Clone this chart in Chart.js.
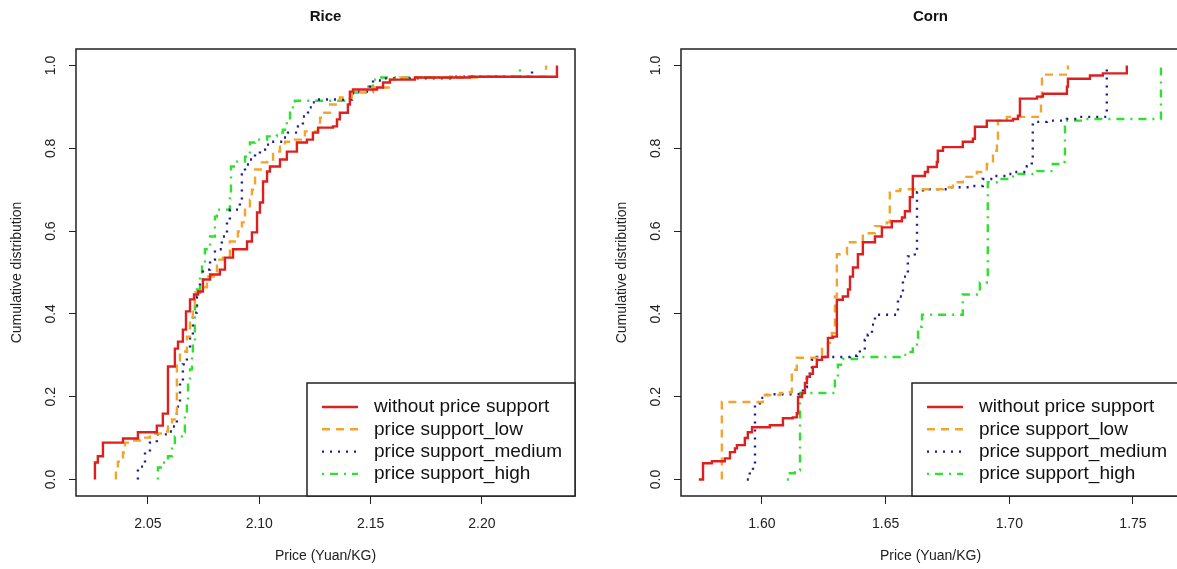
<!DOCTYPE html>
<html>
<head>
<meta charset="utf-8">
<script src="https://cdn.jsdelivr.net/npm/chart.js@4.4.1/dist/chart.umd.min.js"></script>
<style>
  html, body { margin: 0; padding: 0; background: #fff; overflow: hidden; width: 1177px; height: 569px; }
  canvas { position: absolute; top: 0; }
  #rice { left: -4px; }
  #corn { left: 601px; }
</style>
</head>
<body>
<canvas id="rice" width="600" height="569"></canvas>
<canvas id="corn" width="600" height="569"></canvas>
<script>
// series labels and axis ticks
const seriesNames = ['without price support', 'price support_low', 'price support_medium', 'price support_high'];
const riceTicks = [2.05, 2.10, 2.15, 2.20];
const cornTicks = [1.60, 1.65, 1.70, 1.75];
const yTicks = [0, 0.2, 0.4, 0.6, 0.8, 1.0];

// Rice: price where the ecdf jumps, and the level after the jump
const riceNoneX = [2.0262,2.0262,2.0275,2.0298,2.0388,2.0455,2.0540,2.0567,2.0590,2.0621,2.0635,2.0657,2.0671,2.0689,2.0707,2.0725,2.0747,2.0779,2.0823,2.0846,2.0882,2.0945,2.0967,2.0990,2.1003,2.1017,2.1035,2.1048,2.1093,2.1124,2.1169,2.1214,2.1241,2.1264,2.1331,2.1349,2.1362,2.1398,2.1407,2.1421,2.1529,2.1556,2.1587,2.1699,2.1946,2.2337,2.2337];
const riceNoneF = [0,0.041,0.056,0.089,0.099,0.114,0.130,0.159,0.273,0.316,0.333,0.362,0.406,0.435,0.447,0.454,0.483,0.495,0.507,0.536,0.556,0.575,0.597,0.645,0.669,0.720,0.744,0.756,0.773,0.792,0.814,0.821,0.838,0.850,0.853,0.870,0.886,0.906,0.937,0.942,0.947,0.959,0.966,0.971,0.973,0.976,1.0];

const riceLowX = [2.0356,2.0356,2.0365,2.0388,2.0397,2.0428,2.0464,2.0509,2.0576,2.0590,2.0608,2.0630,2.0644,2.0675,2.0689,2.0702,2.0711,2.0734,2.0765,2.0810,2.0837,2.0868,2.0904,2.0922,2.0936,2.0958,2.0967,2.0981,2.1012,2.1035,2.1062,2.1093,2.1115,2.1160,2.1205,2.1264,2.1273,2.1286,2.1318,2.1362,2.1416,2.1511,2.1587,2.1632,2.1991,2.2288,2.2288];
const riceLowF = [0,0.024,0.043,0.065,0.089,0.094,0.101,0.111,0.116,0.128,0.145,0.283,0.309,0.345,0.379,0.415,0.452,0.464,0.490,0.531,0.539,0.575,0.599,0.621,0.652,0.676,0.700,0.749,0.766,0.773,0.792,0.804,0.816,0.821,0.841,0.853,0.874,0.886,0.906,0.923,0.935,0.947,0.966,0.971,0.973,0.976,1.0];

const riceMedX = [2.0455,2.0455,2.0487,2.0509,2.0540,2.0585,2.0612,2.0630,2.0644,2.0657,2.0675,2.0689,2.0702,2.0720,2.0734,2.0747,2.0779,2.0801,2.0832,2.0855,2.0868,2.0913,2.0922,2.0936,2.0958,2.0981,2.1003,2.1026,2.1048,2.1106,2.1129,2.1174,2.1196,2.1219,2.1237,2.1250,2.1416,2.1421,2.1497,2.1511,2.1556,2.1857,2.2225,2.2225];
const riceMedF = [0,0.031,0.065,0.089,0.109,0.116,0.128,0.176,0.234,0.278,0.314,0.350,0.403,0.442,0.483,0.507,0.531,0.556,0.587,0.621,0.652,0.676,0.737,0.761,0.773,0.785,0.797,0.809,0.816,0.826,0.838,0.853,0.877,0.899,0.911,0.918,0.923,0.937,0.949,0.964,0.969,0.973,0.976,1.0];

const riceHighX = [2.0545,2.0545,2.0563,2.0590,2.0608,2.0621,2.0653,2.0666,2.0666,2.0675,2.0680,2.0689,2.0698,2.0702,2.0711,2.0711,2.0720,2.0734,2.0743,2.0756,2.0779,2.0801,2.0810,2.0868,2.0873,2.0900,2.0936,2.0958,2.0981,2.1035,2.1079,2.1106,2.1124,2.1138,2.1160,2.1407,2.1484,2.1511,2.1542,2.1857,2.2171,2.2171];
const riceHighF = [0,0.029,0.041,0.056,0.080,0.104,0.114,0.128,0.162,0.193,0.234,0.266,0.297,0.331,0.370,0.418,0.459,0.495,0.514,0.556,0.587,0.635,0.652,0.693,0.756,0.768,0.780,0.814,0.821,0.829,0.838,0.845,0.865,0.899,0.915,0.935,0.949,0.966,0.971,0.973,0.976,1.0];

// Corn
const cornNoneX = [1.5745,1.5762,1.5798,1.5850,1.5871,1.5891,1.5899,1.5931,1.5943,1.5960,1.6032,1.6085,1.6125,1.6141,1.6146,1.6162,1.6174,1.6182,1.6194,1.6206,1.6222,1.6243,1.6267,1.6287,1.6303,1.6303,1.6327,1.6348,1.6356,1.6368,1.6388,1.6408,1.6457,1.6485,1.6525,1.6566,1.6578,1.6598,1.6610,1.6659,1.6671,1.6707,1.6711,1.6732,1.6812,1.6853,1.6861,1.6909,1.7015,1.7035,1.7043,1.7112,1.7136,1.7233,1.7237,1.7326,1.7378,1.7475];
const cornNoneF = [0,0.039,0.044,0.051,0.066,0.075,0.083,0.100,0.114,0.126,0.131,0.148,0.150,0.160,0.199,0.209,0.233,0.248,0.255,0.272,0.289,0.296,0.342,0.345,0.367,0.434,0.442,0.459,0.490,0.512,0.544,0.573,0.587,0.609,0.624,0.633,0.648,0.682,0.733,0.743,0.755,0.767,0.794,0.803,0.816,0.823,0.852,0.867,0.871,0.879,0.920,0.925,0.932,0.949,0.968,0.976,0.981,1.0];

const cornLowX = [1.5838,1.5838,1.6004,1.6012,1.6073,1.6113,1.6121,1.6141,1.6222,1.6243,1.6267,1.6283,1.6295,1.6303,1.6344,1.6408,1.6457,1.6505,1.6517,1.6558,1.6732,1.6772,1.6812,1.6869,1.6909,1.6934,1.6950,1.6954,1.6990,1.7128,1.7132,1.7237];
const cornLowF = [0,0.187,0.192,0.204,0.209,0.211,0.265,0.294,0.301,0.320,0.330,0.354,0.442,0.544,0.573,0.595,0.612,0.621,0.697,0.701,0.706,0.718,0.731,0.743,0.762,0.794,0.823,0.867,0.876,0.925,0.978,1.0];

const cornMedX = [1.5939,1.5951,1.5964,1.5972,1.5992,1.6020,1.6044,1.6154,1.6166,1.6182,1.6194,1.6202,1.6222,1.6356,1.6384,1.6396,1.6416,1.6428,1.6445,1.6457,1.6550,1.6570,1.6590,1.6618,1.6627,1.6651,1.6748,1.6841,1.6893,1.6934,1.6990,1.7015,1.7071,1.7091,1.7095,1.7152,1.7233,1.7285,1.7394];
const cornMedF = [0,0.017,0.029,0.184,0.197,0.204,0.206,0.211,0.223,0.248,0.265,0.289,0.296,0.299,0.306,0.313,0.337,0.350,0.374,0.398,0.442,0.490,0.539,0.549,0.694,0.701,0.706,0.709,0.726,0.733,0.738,0.743,0.757,0.774,0.864,0.867,0.871,0.876,1.0];

const cornHighX = [1.6101,1.6113,1.6133,1.6154,1.6154,1.6295,1.6307,1.6327,1.6384,1.6558,1.6586,1.6610,1.6627,1.6631,1.6647,1.6812,1.6869,1.6881,1.6909,1.6913,1.6950,1.7015,1.7112,1.7176,1.7217,1.7225,1.7298,1.7613];
const cornHighF = [0,0.015,0.022,0.034,0.209,0.248,0.277,0.291,0.296,0.301,0.308,0.320,0.342,0.369,0.398,0.447,0.451,0.476,0.488,0.718,0.726,0.738,0.745,0.762,0.767,0.867,0.871,1.0];

const styles = [
  { color: '#dd1f1f', dash: [] },
  { color: '#f1a52e', dash: [8, 6] },
  { color: '#1c1c8c', dash: [2, 6] },
  { color: '#2fe02f', dash: [2, 6, 8, 6] },
];

const FONT = '"Liberation Sans", Arial, Helvetica, sans-serif';
Chart.defaults.font.family = FONT;
Chart.defaults.color = '#222';

// box round the plot, rotated y labels, legend in the bottom right corner
const frame = {
  id: 'frame',
  afterDraw(chart) {
    const { ctx, chartArea: a } = chart;
    const y = chart.scales.y;
    ctx.save();
    ctx.strokeStyle = '#222';
    ctx.lineWidth = 1.5;
    ctx.strokeRect(a.left, a.top, a.right - a.left, a.bottom - a.top);

    ctx.fillStyle = '#222';
    ctx.font = '14px ' + FONT;
    ctx.textAlign = 'center';
    ctx.textBaseline = 'middle';
    yTicks.forEach(v => {
      ctx.save();
      ctx.translate(a.left - 25, y.getPixelForValue(v));
      ctx.rotate(-Math.PI / 2);
      ctx.fillText(v.toFixed(1), 0, 0);
      ctx.restore();
    });

    const w = 268, h = 113;
    const bx = a.right - w, by = a.bottom - h;
    ctx.fillStyle = '#fff';
    ctx.fillRect(bx, by, w, h);
    ctx.strokeRect(bx, by, w, h);
    chart.data.datasets.forEach((ds, i) => {
      const ry = by + 24 + i * 22.3;
      ctx.beginPath();
      ctx.setLineDash(ds.borderDash);
      ctx.strokeStyle = ds.borderColor;
      ctx.lineWidth = ds.borderWidth;
      ctx.moveTo(bx + 15, ry);
      ctx.lineTo(bx + 51, ry);
      ctx.stroke();
      ctx.setLineDash([]);
      ctx.fillStyle = '#111';
      ctx.font = '19px ' + FONT;
      ctx.textAlign = 'left';
      ctx.fillText(ds.label, bx + 67, ry);
    });
    ctx.restore();
  }
};

const makeChart = (id, title, xMin, xMax, xTicks, xs, fs) => {
  const datasets = xs.map((xArr, i) => ({
    label: seriesNames[i],
    data: xArr.map((v, k) => ({ x: v, y: fs[i][k] })),
    showLine: true,
    stepped: 'before',
    pointRadius: 0,
    borderColor: styles[i].color,
    borderDash: styles[i].dash,
    borderWidth: 2.4,
    borderCapStyle: 'butt',
    fill: false,
  }));

  new Chart(document.getElementById(id), {
    type: 'scatter',
    data: { datasets },
    options: {
      responsive: false,
      animation: false,
      devicePixelRatio: 1,
      layout: { padding: { left: 0, right: 21, top: 0, bottom: 0 } },
      plugins: {
        legend: { display: false },
        tooltip: { enabled: false },
        title: {
          display: true,
          text: title,
          fullSize: false,
          color: '#111',
          font: { size: 15, weight: 'bold' },
          padding: { top: 8, bottom: 23 },
        },
      },
      scales: {
        x: {
          type: 'linear',
          min: xMin,
          max: xMax,
          afterBuildTicks: s => { s.ticks = xTicks.map(v => ({ value: v })); },
          afterFit: s => { s.height = 73; },
          grid: { drawOnChartArea: false, drawTicks: true, tickLength: 8, color: '#222' },
          border: { display: false },
          ticks: { font: { size: 14 }, color: '#222', padding: 12, autoSkip: false, maxRotation: 0, callback: v => v.toFixed(2) },
          title: { display: true, text: 'Price (Yuan/KG)', font: { size: 14 }, color: '#222', padding: { top: 0, bottom: 4 } },
        },
        y: {
          type: 'linear',
          min: -0.04,
          max: 1.04,
          afterBuildTicks: s => { s.ticks = yTicks.map(v => ({ value: v })); },
          afterFit: s => { s.width = 80; },
          grid: { drawOnChartArea: false, drawTicks: true, tickLength: 7, color: '#222' },
          border: { display: false },
          ticks: { display: false },
          title: { display: true, text: 'Cumulative distribution', font: { size: 14 }, color: '#222', padding: { top: 13, bottom: 0 } },
        },
      },
    },
    plugins: [frame],
  });
};

makeChart('rice', 'Rice', 2.0177, 2.2418, riceTicks,
  [riceNoneX, riceLowX, riceMedX, riceHighX],
  [riceNoneF, riceLowF, riceMedF, riceHighF]);

makeChart('corn', 'Corn', 1.5673, 1.7690, cornTicks,
  [cornNoneX, cornLowX, cornMedX, cornHighX],
  [cornNoneF, cornLowF, cornMedF, cornHighF]);
</script>
</body>
</html>
